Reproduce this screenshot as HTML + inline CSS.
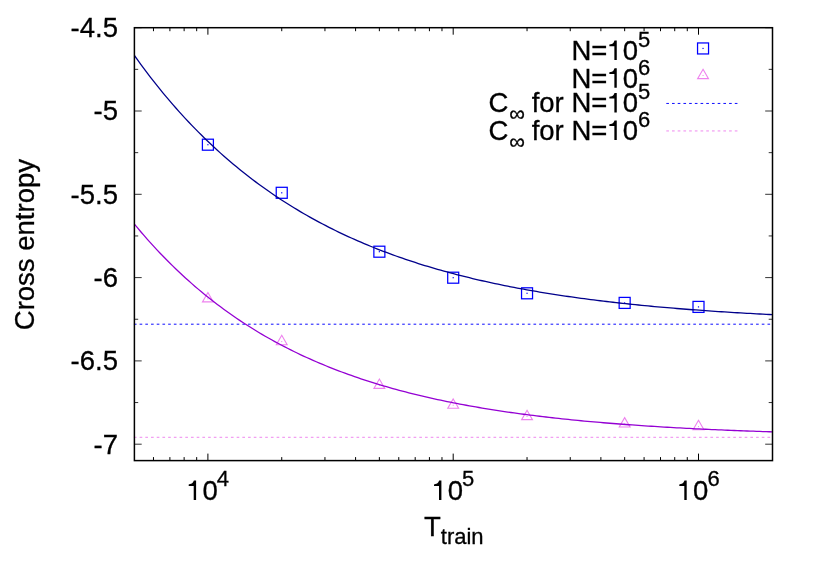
<!DOCTYPE html><html><head><meta charset="utf-8"><title>plot</title><style>html,body{margin:0;padding:0;background:#fff}svg{display:block;will-change:transform}tspan.one{fill:none}text{font-family:"Liberation Sans",sans-serif;fill:#000;stroke:#000;stroke-width:0.3px}tspan.one{stroke:none}</style></head><body>
<svg width="822" height="576" viewBox="0 0 822 576">
<rect width="822" height="576" fill="#fff"/>
<path d="M153.48,460.6v-3.5M153.48,27.7v3.5M169.90,460.6v-3.5M169.90,27.7v3.5M184.13,460.6v-3.5M184.13,27.7v3.5M196.68,460.6v-3.5M196.68,27.7v3.5M207.90,460.6v-7M207.90,27.7v7M281.74,460.6v-3.5M281.74,27.7v3.5M324.94,460.6v-3.5M324.94,27.7v3.5M355.59,460.6v-3.5M355.59,27.7v3.5M379.36,460.6v-3.5M379.36,27.7v3.5M398.78,460.6v-3.5M398.78,27.7v3.5M415.20,460.6v-3.5M415.20,27.7v3.5M429.43,460.6v-3.5M429.43,27.7v3.5M441.98,460.6v-3.5M441.98,27.7v3.5M453.20,460.6v-7M453.20,27.7v7M527.04,460.6v-3.5M527.04,27.7v3.5M570.24,460.6v-3.5M570.24,27.7v3.5M600.89,460.6v-3.5M600.89,27.7v3.5M624.66,460.6v-3.5M624.66,27.7v3.5M644.08,460.6v-3.5M644.08,27.7v3.5M660.50,460.6v-3.5M660.50,27.7v3.5M674.73,460.6v-3.5M674.73,27.7v3.5M687.28,460.6v-3.5M687.28,27.7v3.5M698.50,460.6v-7M698.50,27.7v7" stroke="#000" stroke-width="1" fill="none"/>
<path d="M134.4,27.70h7.3M772.5,27.70h-7.3M134.4,69.35h3.8M772.5,69.35h-3.8M134.4,111.00h7.3M772.5,111.00h-7.3M134.4,152.65h3.8M772.5,152.65h-3.8M134.4,194.30h7.3M772.5,194.30h-7.3M134.4,235.95h3.8M772.5,235.95h-3.8M134.4,277.60h7.3M772.5,277.60h-7.3M134.4,319.25h3.8M772.5,319.25h-3.8M134.4,360.90h7.3M772.5,360.90h-7.3M134.4,402.55h3.8M772.5,402.55h-3.8M134.4,444.20h7.3M772.5,444.20h-7.3" stroke="#000" stroke-width="0.8" fill="none"/>
<line x1="134.4" y1="324.2" x2="772.5" y2="324.2" stroke="#0000ff" stroke-width="0.95" stroke-linecap="square" stroke-dasharray="1.65 4.058"/>
<line x1="134.4" y1="437.3" x2="772.5" y2="437.3" stroke="#ee82ee" stroke-width="0.95" stroke-linecap="square" stroke-dasharray="1.65 4.058"/>
<rect x="202.40" y="139.20" width="11.0" height="11.0" fill="none" stroke="#0000ff" stroke-width="1.25"/><rect x="207.30" y="144.10" width="1.2" height="1.2" fill="#0000ff"/>
<rect x="276.24" y="187.30" width="11.0" height="11.0" fill="none" stroke="#0000ff" stroke-width="1.25"/><rect x="281.14" y="192.20" width="1.2" height="1.2" fill="#0000ff"/>
<rect x="373.86" y="246.20" width="11.0" height="11.0" fill="none" stroke="#0000ff" stroke-width="1.25"/><rect x="378.76" y="251.10" width="1.2" height="1.2" fill="#0000ff"/>
<rect x="447.70" y="272.20" width="11.0" height="11.0" fill="none" stroke="#0000ff" stroke-width="1.25"/><rect x="452.60" y="277.10" width="1.2" height="1.2" fill="#0000ff"/>
<rect x="521.54" y="287.80" width="11.0" height="11.0" fill="none" stroke="#0000ff" stroke-width="1.25"/><rect x="526.44" y="292.70" width="1.2" height="1.2" fill="#0000ff"/>
<rect x="619.16" y="297.40" width="11.0" height="11.0" fill="none" stroke="#0000ff" stroke-width="1.25"/><rect x="624.06" y="302.30" width="1.2" height="1.2" fill="#0000ff"/>
<rect x="693.00" y="301.40" width="11.0" height="11.0" fill="none" stroke="#0000ff" stroke-width="1.25"/><rect x="697.90" y="306.30" width="1.2" height="1.2" fill="#0000ff"/>
<path d="M207.90,292.53L213.33,301.90H202.47Z" fill="none" stroke="#ee82ee" stroke-width="1.1"/><rect x="207.40" y="298.30" width="1" height="1" fill="#ee82ee"/>
<path d="M281.74,335.33L287.17,344.70H276.31Z" fill="none" stroke="#ee82ee" stroke-width="1.1"/><rect x="281.24" y="341.10" width="1" height="1" fill="#ee82ee"/>
<path d="M379.36,379.03L384.79,388.40H373.93Z" fill="none" stroke="#ee82ee" stroke-width="1.1"/><rect x="378.86" y="384.80" width="1" height="1" fill="#ee82ee"/>
<path d="M453.20,398.93L458.63,408.30H447.77Z" fill="none" stroke="#ee82ee" stroke-width="1.1"/><rect x="452.70" y="404.70" width="1" height="1" fill="#ee82ee"/>
<path d="M527.04,410.23L532.47,419.60H521.61Z" fill="none" stroke="#ee82ee" stroke-width="1.1"/><rect x="526.54" y="416.00" width="1" height="1" fill="#ee82ee"/>
<path d="M624.66,417.63L630.09,427.00H619.23Z" fill="none" stroke="#ee82ee" stroke-width="1.1"/><rect x="624.16" y="423.40" width="1" height="1" fill="#ee82ee"/>
<path d="M698.50,420.33L703.93,429.70H693.07Z" fill="none" stroke="#ee82ee" stroke-width="1.1"/><rect x="698.00" y="426.10" width="1" height="1" fill="#ee82ee"/>
<polyline points="134.40,55.50 137.59,59.96 140.78,64.34 143.97,68.65 147.16,72.89 150.35,77.06 153.54,81.16 156.73,85.19 159.92,89.15 163.11,93.05 166.31,96.88 169.50,100.65 172.69,104.36 175.88,108.01 179.07,111.59 182.26,115.12 185.45,118.59 188.64,122.00 191.83,125.35 195.02,128.65 198.21,131.89 201.40,135.08 204.59,138.22 207.78,141.30 210.97,144.34 214.16,147.32 217.35,150.25 220.54,153.14 223.73,155.97 226.92,158.76 230.12,161.51 233.31,164.20 236.50,166.86 239.69,169.47 242.88,172.03 246.07,174.56 249.26,177.04 252.45,179.48 255.64,181.88 258.83,184.24 262.02,186.56 265.21,188.84 268.40,191.08 271.59,193.29 274.78,195.46 277.97,197.60 281.16,199.70 284.35,201.76 287.54,203.79 290.73,205.79 293.93,207.75 297.12,209.68 300.31,211.58 303.50,213.45 306.69,215.28 309.88,217.09 313.07,218.86 316.26,220.61 319.45,222.33 322.64,224.02 325.83,225.68 329.02,227.31 332.21,228.92 335.40,230.49 338.59,232.05 341.78,233.58 344.97,235.08 348.16,236.55 351.35,238.01 354.54,239.44 357.74,240.84 360.93,242.22 364.12,243.58 367.31,244.92 370.50,246.23 373.69,247.52 376.88,248.79 380.07,250.04 383.26,251.27 386.45,252.48 389.64,253.67 392.83,254.84 396.02,255.99 399.21,257.12 402.40,258.23 405.59,259.32 408.78,260.40 411.97,261.45 415.16,262.49 418.35,263.51 421.54,264.52 424.74,265.51 427.93,266.48 431.12,267.44 434.31,268.38 437.50,269.30 440.69,270.21 443.88,271.11 447.07,271.98 450.26,272.85 453.45,273.70 456.64,274.54 459.83,275.36 463.02,276.17 466.21,276.96 469.40,277.74 472.59,278.51 475.78,279.27 478.97,280.01 482.16,280.75 485.36,281.47 488.55,282.17 491.74,282.87 494.93,283.55 498.12,284.23 501.31,284.89 504.50,285.54 507.69,286.18 510.88,286.81 514.07,287.43 517.26,288.03 520.45,288.63 523.64,289.22 526.83,289.80 530.02,290.37 533.21,290.93 536.40,291.48 539.59,292.02 542.78,292.55 545.97,293.08 549.16,293.59 552.36,294.10 555.55,294.59 558.74,295.08 561.93,295.57 565.12,296.04 568.31,296.51 571.50,296.96 574.69,297.41 577.88,297.86 581.07,298.29 584.26,298.72 587.45,299.14 590.64,299.56 593.83,299.96 597.02,300.36 600.21,300.76 603.40,301.14 606.59,301.52 609.78,301.90 612.98,302.27 616.17,302.63 619.36,302.99 622.55,303.34 625.74,303.68 628.93,304.02 632.12,304.35 635.31,304.68 638.50,305.00 641.69,305.32 644.88,305.63 648.07,305.94 651.26,306.24 654.45,306.54 657.64,306.83 660.83,307.11 664.02,307.40 667.21,307.67 670.40,307.95 673.59,308.21 676.78,308.48 679.98,308.74 683.17,308.99 686.36,309.24 689.55,309.49 692.74,309.73 695.93,309.97 699.12,310.20 702.31,310.43 705.50,310.66 708.69,310.88 711.88,311.10 715.07,311.32 718.26,311.53 721.45,311.74 724.64,311.94 727.83,312.15 731.02,312.34 734.21,312.54 737.40,312.73 740.60,312.92 743.79,313.11 746.98,313.29 750.17,313.47 753.36,313.64 756.55,313.82 759.74,313.99 762.93,314.16 766.12,314.32 769.31,314.48 772.50,314.64" fill="none" stroke="#00008b" stroke-width="1.3"/>
<polyline points="134.40,224.10 137.59,227.94 140.78,231.72 143.97,235.42 147.16,239.06 150.35,242.63 153.54,246.14 156.73,249.59 159.92,252.97 163.11,256.29 166.31,259.56 169.50,262.76 172.69,265.91 175.88,269.00 179.07,272.03 182.26,275.01 185.45,277.94 188.64,280.81 191.83,283.63 195.02,286.40 198.21,289.12 201.40,291.79 204.59,294.42 207.78,296.99 210.97,299.52 214.16,302.01 217.35,304.45 220.54,306.84 223.73,309.19 226.92,311.50 230.12,313.77 233.31,316.00 236.50,318.19 239.69,320.34 242.88,322.45 246.07,324.52 249.26,326.55 252.45,328.55 255.64,330.51 258.83,332.44 262.02,334.33 265.21,336.19 268.40,338.01 271.59,339.80 274.78,341.56 277.97,343.29 281.16,344.99 284.35,346.65 287.54,348.29 290.73,349.89 293.93,351.47 297.12,353.02 300.31,354.54 303.50,356.04 306.69,357.50 309.88,358.94 313.07,360.36 316.26,361.75 319.45,363.11 322.64,364.45 325.83,365.77 329.02,367.06 332.21,368.33 335.40,369.57 338.59,370.79 341.78,371.99 344.97,373.17 348.16,374.33 351.35,375.47 354.54,376.59 357.74,377.68 360.93,378.76 364.12,379.82 367.31,380.86 370.50,381.88 373.69,382.88 376.88,383.86 380.07,384.83 383.26,385.78 386.45,386.71 389.64,387.62 392.83,388.52 396.02,389.40 399.21,390.27 402.40,391.12 405.59,391.95 408.78,392.77 411.97,393.58 415.16,394.37 418.35,395.15 421.54,395.91 424.74,396.66 427.93,397.39 431.12,398.12 434.31,398.82 437.50,399.52 440.69,400.20 443.88,400.88 447.07,401.54 450.26,402.18 453.45,402.82 456.64,403.44 459.83,404.06 463.02,404.66 466.21,405.25 469.40,405.83 472.59,406.40 475.78,406.96 478.97,407.51 482.16,408.05 485.36,408.58 488.55,409.10 491.74,409.61 494.93,410.12 498.12,410.61 501.31,411.09 504.50,411.57 507.69,412.04 510.88,412.49 514.07,412.94 517.26,413.39 520.45,413.82 523.64,414.25 526.83,414.67 530.02,415.08 533.21,415.48 536.40,415.88 539.59,416.27 542.78,416.65 545.97,417.02 549.16,417.39 552.36,417.75 555.55,418.11 558.74,418.46 561.93,418.80 565.12,419.14 568.31,419.47 571.50,419.79 574.69,420.11 577.88,420.43 581.07,420.73 584.26,421.04 587.45,421.33 590.64,421.62 593.83,421.91 597.02,422.19 600.21,422.47 603.40,422.74 606.59,423.00 609.78,423.26 612.98,423.52 616.17,423.77 619.36,424.02 622.55,424.26 625.74,424.50 628.93,424.73 632.12,424.96 635.31,425.19 638.50,425.41 641.69,425.63 644.88,425.84 648.07,426.05 651.26,426.26 654.45,426.46 657.64,426.66 660.83,426.85 664.02,427.05 667.21,427.23 670.40,427.42 673.59,427.60 676.78,427.78 679.98,427.95 683.17,428.13 686.36,428.29 689.55,428.46 692.74,428.62 695.93,428.78 699.12,428.94 702.31,429.09 705.50,429.25 708.69,429.39 711.88,429.54 715.07,429.68 718.26,429.82 721.45,429.96 724.64,430.10 727.83,430.23 731.02,430.36 734.21,430.49 737.40,430.62 740.60,430.74 743.79,430.86 746.98,430.98 750.17,431.10 753.36,431.21 756.55,431.33 759.74,431.44 762.93,431.55 766.12,431.66 769.31,431.76 772.50,431.86" fill="none" stroke="#9400d3" stroke-width="1.3"/>
<rect x="134.4" y="27.7" width="638.1" height="432.90000000000003" fill="none" stroke="#000" stroke-width="1.5"/>
<text x="118" y="37.10" font-size="27.5" text-anchor="end">-4.5</text>
<text x="118" y="120.40" font-size="27.5" text-anchor="end">-5</text>
<text x="118" y="203.70" font-size="27.5" text-anchor="end">-5.5</text>
<text x="118" y="287.00" font-size="27.5" text-anchor="end">-6</text>
<text x="118" y="370.30" font-size="27.5" text-anchor="end">-6.5</text>
<text x="118" y="453.60" font-size="27.5" text-anchor="end">-7</text>
<text class="t1" x="187.20" y="500" font-size="27.5"><tspan class="one">1</tspan>0<tspan font-size="22.0" dx="-1" dy="-14.3">4</tspan></text>
<text class="t1" x="432.50" y="500" font-size="27.5"><tspan class="one">1</tspan>0<tspan font-size="22.0" dx="-1" dy="-14.3">5</tspan></text>
<text class="t1" x="677.80" y="500" font-size="27.5"><tspan class="one">1</tspan>0<tspan font-size="22.0" dx="-1" dy="-14.3">6</tspan></text>
<text transform="translate(34.2,244.6) rotate(-90)" font-size="27.5" text-anchor="middle">Cross entropy</text>
<text x="424" y="535.5" font-size="27.5">T<tspan font-size="22.0" dy="8">train</tspan></text>
<text class="t1" x="650.2" y="60.1" font-size="27.5" text-anchor="end">N=<tspan class="one">1</tspan>0<tspan font-size="22.0" dy="-13.3">5</tspan></text>
<text class="t1" x="650.2" y="87.85" font-size="27.5" text-anchor="end">N=<tspan class="one">1</tspan>0<tspan font-size="22.0" dy="-13.3">6</tspan></text>
<text class="t1" x="650.2" y="112.4" font-size="27.5" text-anchor="end">C<tspan font-size="22.0" dx="0.8" dy="9">∞</tspan><tspan dx="-0.8" dy="-9"> for N=</tspan><tspan class="one">1</tspan>0<tspan font-size="22.0" dy="-13.3">5</tspan></text>
<text class="t1" x="650.2" y="139.9" font-size="27.5" text-anchor="end">C<tspan font-size="22.0" dx="0.8" dy="9">∞</tspan><tspan dx="-0.8" dy="-9"> for N=</tspan><tspan class="one">1</tspan>0<tspan font-size="22.0" dy="-13.3">6</tspan></text>
<rect x="697.55" y="42.95" width="11.0" height="11.0" fill="none" stroke="#0000ff" stroke-width="1.25"/><rect x="702.45" y="47.85" width="1.2" height="1.2" fill="#0000ff"/>
<path d="M703.05,69.23L708.48,78.60H697.62Z" fill="none" stroke="#ee82ee" stroke-width="1.1"/><rect x="702.55" y="75.00" width="1" height="1" fill="#ee82ee"/>
<line x1="666.8" y1="103.45" x2="738.6" y2="103.45" stroke="#0000ff" stroke-width="0.95" stroke-linecap="square" stroke-dasharray="1.65 4.058"/>
<line x1="666.8" y1="130.95" x2="738.6" y2="130.95" stroke="#ee82ee" stroke-width="0.95" stroke-linecap="square" stroke-dasharray="1.65 4.058"/>
<path transform="translate(185.90,500.00) scale(0.02750,-0.02750)" d="M284 0V505H102V568C172 574 222 594 252 634C268 656 280 682 290 709H371V0Z" fill="#000"/>
<path transform="translate(431.20,500.00) scale(0.02750,-0.02750)" d="M284 0V505H102V568C172 574 222 594 252 634C268 656 280 682 290 709H371V0Z" fill="#000"/>
<path transform="translate(676.50,500.00) scale(0.02750,-0.02750)" d="M284 0V505H102V568C172 574 222 594 252 634C268 656 280 682 290 709H371V0Z" fill="#000"/>
<path transform="translate(606.56,60.10) scale(0.02750,-0.02750)" d="M284 0V505H102V568C172 574 222 594 252 634C268 656 280 682 290 709H371V0Z" fill="#000"/>
<path transform="translate(606.56,87.85) scale(0.02750,-0.02750)" d="M284 0V505H102V568C172 574 222 594 252 634C268 656 280 682 290 709H371V0Z" fill="#000"/>
<path transform="translate(606.56,112.40) scale(0.02750,-0.02750)" d="M284 0V505H102V568C172 574 222 594 252 634C268 656 280 682 290 709H371V0Z" fill="#000"/>
<path transform="translate(606.56,139.90) scale(0.02750,-0.02750)" d="M284 0V505H102V568C172 574 222 594 252 634C268 656 280 682 290 709H371V0Z" fill="#000"/>
</svg></body></html>
